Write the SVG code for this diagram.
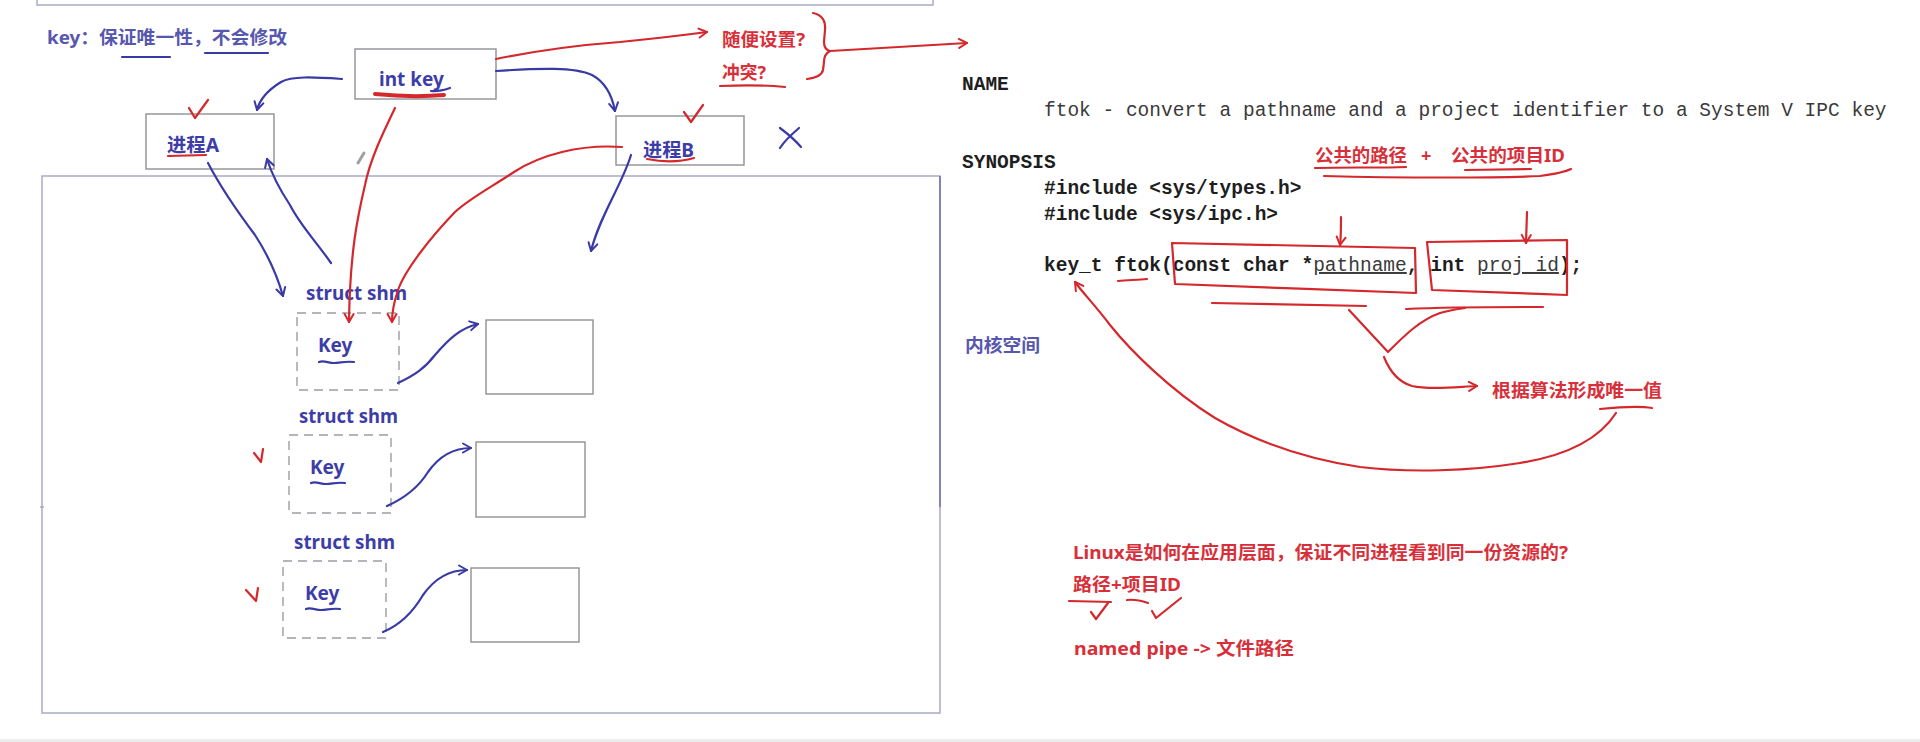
<svg xmlns="http://www.w3.org/2000/svg" width="1920" height="742" viewBox="0 0 1920 742">
<defs>
<style>
.frame{fill:none;stroke:#a9a9c6;stroke-width:1.5}
.box{fill:#fff;stroke:#8f8f96;stroke-width:1.4}
.dash{fill:#fff;stroke:#9c9ca4;stroke-width:1.4;stroke-dasharray:9 6}
.bl{fill:none;stroke:#3a3aa6;stroke-width:2.2;stroke-linecap:round;stroke-linejoin:round}
.rd{fill:none;stroke:#d4282c;stroke-width:2.2;stroke-linecap:round;stroke-linejoin:round}
.tb{font-family:"Noto Sans","Noto Sans CJK SC",sans-serif;font-weight:bold;fill:#3d3da8;font-size:19px}
.tk{font-family:"Noto Sans","Noto Sans CJK SC",sans-serif;font-weight:bold;fill:#5757ae;font-size:18px}
.tr{font-family:"Noto Sans","Noto Sans CJK SC",sans-serif;font-weight:bold;fill:#d8303a;font-size:18px}
.mono{font-family:"Liberation Mono",monospace;font-size:19.5px;fill:#1e1e1e;font-weight:bold}
.monon{font-family:"Liberation Mono",monospace;font-size:19.5px;fill:#3a3a3a;font-weight:normal}
</style>
<marker id="ab" viewBox="0 0 12 12" refX="10" refY="6" markerWidth="12" markerHeight="12" markerUnits="userSpaceOnUse" orient="auto"><path d="M2,1.5 L10,6 L2,10.5" fill="none" stroke="#3a3aa6" stroke-width="2" stroke-linecap="round" stroke-linejoin="round"/></marker>
<marker id="ar" viewBox="0 0 12 12" refX="10" refY="6" markerWidth="12" markerHeight="12" markerUnits="userSpaceOnUse" orient="auto"><path d="M2,1.5 L10,6 L2,10.5" fill="none" stroke="#d4282c" stroke-width="2" stroke-linecap="round" stroke-linejoin="round"/></marker>
</defs>
<rect x="0" y="0" width="1920" height="742" fill="#ffffff"/>
<rect x="0" y="739" width="1920" height="3" fill="#ececec"/>

<!-- frames -->
<g id="frames">
<rect class="frame" x="37" y="-20" width="896" height="25"/>
<rect class="frame" x="42" y="176" width="898" height="537"/>
<line x1="940" y1="176" x2="940" y2="507" stroke="#7474b6" stroke-width="1.6"/>
<line x1="40" y1="507" x2="44" y2="507" stroke="#a9a9c6" stroke-width="1.5"/>
</g>

<!-- top-left note -->
<g id="note-key">
<text class="tk" x="47" y="44" textLength="240" lengthAdjust="spacingAndGlyphs">key：保证唯一性，不会修改</text>
<path class="bl" d="M122,57 L170,57" stroke="#5757ae"/>
<path class="bl" d="M205,53 L268,53" stroke="#5757ae"/>
</g>

<!-- int key -->
<g id="int-key">
<rect class="box" x="355" y="49" width="141" height="50"/>
<text class="tb" x="379" y="86" font-size="19">int key</text>
<path d="M375,94 C395,96 420,97 444,95" fill="none" stroke="#d4282c" stroke-width="4" stroke-linecap="round"/>
<path class="bl" d="M431,91 C438,92 444,90 450,88" stroke-width="1.8"/>
</g>

<!-- process A -->
<g id="proc-a">
<rect class="box" x="146" y="114" width="128" height="55"/>
<text class="tb" x="167" y="152" textLength="52" lengthAdjust="spacingAndGlyphs">进程A</text>
<path class="rd" d="M168,156 L206,155"/>
<path class="rd" d="M189,108 L195,118 L208,100"/>
</g>

<!-- process B -->
<g id="proc-b">
<rect class="box" x="616" y="116" width="128" height="49"/>
<text class="tb" x="643" y="157" textLength="51" lengthAdjust="spacingAndGlyphs">进程B</text>
<path class="rd" d="M647,159 C662,162 680,162 694,158"/>
<path class="rd" d="M684,112 L691,122 L703,105"/>
<path class="bl" d="M780,128 C788,134 795,140 801,147 M799,128 C792,134 785,140 780,148"/>
</g>

<!-- question notes -->
<g id="note-question">
<text class="tr" x="722" y="46" textLength="83" lengthAdjust="spacingAndGlyphs">随便设置?</text>
<text class="tr" x="722" y="79" textLength="44" lengthAdjust="spacingAndGlyphs">冲突?</text>
<path class="rd" d="M720,86 C740,85 765,85 785,87"/>
<path class="rd" d="M813,13 C822,15 826,20 825,30 L824,42 C824,47 826,50 830,51 C826,53 824,57 824,62 L823,70 C822,75 815,78 807,79"/>
</g>

<!-- kernel label -->
<g id="kernel-label">
<text class="tk" x="965" y="352" textLength="75" lengthAdjust="spacingAndGlyphs" fill="#5050b0">内核空间</text>
</g>

<!-- shm 1 -->
<g id="shm-1">
<text class="tb" x="306" y="300" textLength="101" lengthAdjust="spacingAndGlyphs">struct shm</text>
<rect class="dash" x="297" y="313" width="102" height="77"/>
<text class="tb" x="318" y="352">Key</text>
<path class="bl" d="M319,362 C324,360 328,363 334,363 C340,363 345,361 354,362" stroke-width="1.8"/>
<rect class="box" x="486" y="320" width="107" height="74"/>
</g>

<!-- shm 2 -->
<g id="shm-2">
<text class="tb" x="299" y="423" textLength="99" lengthAdjust="spacingAndGlyphs">struct shm</text>
<rect class="dash" x="289" y="435" width="102" height="78"/>
<text class="tb" x="310" y="474">Key</text>
<path class="bl" d="M311,483 C316,481 320,484 326,484 C332,484 337,482 345,483" stroke-width="1.8"/>
<rect class="box" x="476" y="442" width="109" height="75"/>
<path class="rd" d="M254,453 L261,462 L263,449"/>
</g>

<!-- shm 3 -->
<g id="shm-3">
<text class="tb" x="294" y="549" textLength="101" lengthAdjust="spacingAndGlyphs">struct shm</text>
<rect class="dash" x="283" y="561" width="103" height="77"/>
<text class="tb" x="305" y="600">Key</text>
<path class="bl" d="M306,609 C311,607 315,610 321,610 C327,610 332,608 340,609" stroke-width="1.8"/>
<rect class="box" x="471" y="568" width="108" height="74"/>
<path class="rd" d="M246,590 L256,601 L258,588"/>
</g>

<!-- pencil cursor artefact -->
<path d="M358,163 L364,153" stroke="#a0a0a0" stroke-width="3" stroke-linecap="round"/>

<!-- man page -->
<g id="manpage">
<text class="mono" x="962" y="90">NAME</text>
<text class="monon" x="1044" y="116">ftok - convert a pathname and a project identifier to a System V IPC key</text>
<text class="mono" x="962" y="168">SYNOPSIS</text>
<text class="mono" x="1044" y="194">#include &lt;sys/types.h&gt;</text>
<text class="mono" x="1044" y="220">#include &lt;sys/ipc.h&gt;</text>
<text class="mono" x="1044" y="271" xml:space="preserve">key_t ftok(const char *<tspan class="monon" text-decoration="underline">pathname</tspan>, int <tspan class="monon" text-decoration="underline">proj_id</tspan>);</text>
</g>

<!-- right annotations -->
<g id="note-params">
<text class="tr" x="1315" y="162" textLength="92" lengthAdjust="spacingAndGlyphs">公共的路径</text>
<text class="tr" x="1421" y="162">+</text>
<text class="tr" x="1451" y="162" textLength="114" lengthAdjust="spacingAndGlyphs">公共的项目ID</text>
<path class="rd" d="M1315,168 C1340,167 1380,168 1406,167"/>
<path class="rd" d="M1465,170 L1531,169"/>
<path class="rd" d="M1324,176 C1400,178 1500,178 1540,176 C1555,174 1565,172 1571,169"/>
<path class="rd" d="M1172,243 L1415,248 L1416,293 C1340,290 1250,287 1175,284 Z"/>
<path class="rd" d="M1427,242 L1567,240 L1567,295 C1520,293 1470,291 1432,290 Z"/>
<path class="rd" d="M1118,281 C1128,280 1138,280 1147,279"/>
<path class="rd" d="M1212,303 C1270,304 1320,305 1366,306"/>
<path class="rd" d="M1406,309 C1450,307 1500,307 1543,307"/>
<path class="rd" d="M1349,310 L1388,352 C1405,335 1420,320 1440,313 C1450,310 1458,309 1465,308"/>
</g>

<g id="note-unique">
<text class="tr" x="1492" y="397" textLength="170" lengthAdjust="spacingAndGlyphs" font-size="19">根据算法形成唯一值</text>
<path class="rd" d="M1600,409 C1620,407 1640,406 1652,408"/>
</g>

<g id="note-linux">
<text class="tr" x="1073" y="559" textLength="495" lengthAdjust="spacingAndGlyphs">Linux是如何在应用层面，保证不同进程看到同一份资源的?</text>
<text class="tr" x="1073" y="591" textLength="108" lengthAdjust="spacingAndGlyphs">路径+项目ID</text>
<path class="rd" d="M1069,601 L1111,602"/>
<path class="rd" d="M1091,612 L1096,619 L1108,603"/>
<path class="rd" d="M1127,600 C1135,599 1142,601 1148,603"/>
<path class="rd" d="M1152,611 L1156,618 L1181,598"/>
<text class="tr" x="1074" y="655" textLength="220" lengthAdjust="spacingAndGlyphs">named pipe -&gt; 文件路径</text>
</g>

<!-- connectors -->
<g id="connectors">
<path class="bl" marker-end="url(#ab)" d="M342,79 C312,77 292,76 281,82 C268,90 260,98 257,110"/>
<path class="bl" marker-end="url(#ab)" d="M496,71 C540,68 575,67 592,75 C605,82 612,95 615,111"/>
<path class="bl" marker-end="url(#ab)" d="M208,163 C222,190 240,215 255,235 C268,255 277,275 283,296"/>
<path class="bl" marker-end="url(#ab)" d="M331,263 C315,240 300,225 290,205 C280,190 272,175 267,159"/>
<path class="bl" marker-end="url(#ab)" d="M631,155 C622,185 600,215 591,251"/>
<path class="bl" marker-end="url(#ab)" d="M398,383 C415,375 425,368 435,355 C448,340 460,328 478,324"/>
<path class="bl" marker-end="url(#ab)" d="M387,506 C405,498 418,488 428,472 C440,455 455,448 471,448"/>
<path class="bl" marker-end="url(#ab)" d="M383,632 C400,625 413,612 423,595 C435,578 450,570 467,570"/>
<path class="rd" marker-end="url(#ar)" d="M496,59 C540,50 580,45 620,42 C660,38 685,35 707,32"/>
<path class="rd" marker-end="url(#ar)" d="M830,51 C870,49 910,46 967,43"/>
<path class="rd" marker-end="url(#ar)" d="M395,108 C382,135 370,160 365,185 C358,215 350,250 349,322"/>
<path class="rd" marker-end="url(#ar)" d="M622,147 C580,144 540,155 514,172 C490,188 470,198 455,212 C430,238 405,270 398,290 C394,302 392,312 392,322"/>
<path class="rd" marker-end="url(#ar)" d="M1341,217 C1341,228 1341,238 1340,245"/>
<path class="rd" marker-end="url(#ar)" d="M1527,212 L1526,243"/>
<path class="rd" marker-end="url(#ar)" d="M1384,357 C1390,372 1398,382 1412,386 C1430,390 1455,387 1477,386"/>
<path class="rd" marker-end="url(#ar)" d="M1616,413 C1600,438 1570,455 1520,463 C1470,471 1410,473 1360,467 C1300,458 1250,438 1215,418 C1170,390 1130,350 1110,325 C1095,305 1082,292 1075,282"/>
</g>
</svg>
